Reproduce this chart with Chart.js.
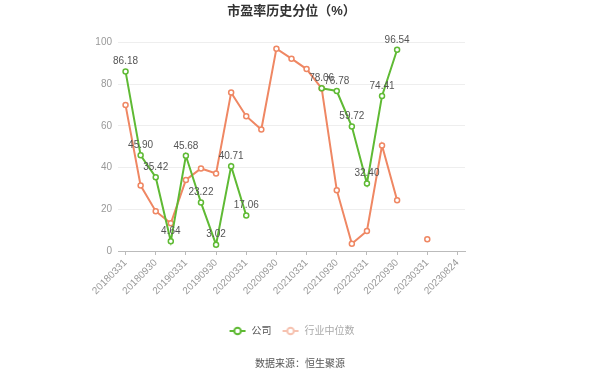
<!DOCTYPE html>
<html><head><meta charset="utf-8">
<script src="https://cdn.jsdelivr.net/npm/chart.js@4/dist/chart.umd.min.js"></script>
<style>html,body{margin:0;padding:0;background:#fff}#wrap{width:600px;height:379px;position:relative}</style>
</head><body><div id="wrap"><canvas id="c"></canvas></div>
<script>
const categories = ['20180331','20180630','20180930','20181231','20190331','20190630','20190930','20191231','20200331','20200630','20200930','20201231','20210331','20210630','20210930','20211231','20220331','20220630','20220930','20221231','20230331','20230630','20230824'];
const company = [86.18,45.90,35.42,4.64,45.68,23.22,3.02,40.71,17.06,null,null,null,null,78.06,76.78,59.72,32.40,74.41,96.54,null,null,null,null];
const industry = [70.0,31.4,19.1,13.3,34.1,39.6,37.2,76.0,64.7,58.3,97.1,92.3,87.3,78.0,29.2,3.5,9.6,50.6,24.4,null,5.6,null,null];
const yTicks = [0,20,40,60,80,100];
const seriesNames = ['公司','行业中位数'];
const titleText = '市盈率历史分位（%）';
const sourceText = '数据来源：恒生聚源';

const GREEN = '#5fba34';
const ORANGE = '#ef8763';
const FONT = "'Liberation Sans','Noto Sans CJK SC',sans-serif";

function marker(color){
  const c = document.createElement('canvas');
  c.width = 18; c.height = 10;
  const g = c.getContext('2d');
  g.strokeStyle = color; g.lineWidth = 2;
  g.beginPath(); g.moveTo(1,5); g.lineTo(17,5); g.stroke();
  g.beginPath(); g.arc(9,5,3.3,0,Math.PI*2); g.fillStyle='#fff'; g.fill(); g.stroke();
  return c;
}

const valueLabels = {
  id: 'valueLabels',
  afterDatasetsDraw(chart){
    const meta = chart.getDatasetMeta(0);
    const ctx = chart.ctx;
    ctx.save();
    ctx.font = '10px ' + FONT;
    ctx.fillStyle = '#555';
    ctx.textAlign = 'center';
    ctx.textBaseline = 'bottom';
    meta.data.forEach((pt, i) => {
      const v = company[i];
      if (v == null) return;
      ctx.fillText(v.toFixed(2), pt.x, pt.y - 5);
    });
    ctx.restore();
  }
};

new Chart(document.getElementById('c'), {
  type: 'line',
  data: {
    labels: categories,
    datasets: [
      { label: seriesNames[0], data: company, borderColor: GREEN, backgroundColor: '#fff',
        borderWidth: 2, pointRadius: 2.5, pointBorderWidth: 1.5, pointBackgroundColor: '#fff',
        pointBorderColor: GREEN, spanGaps: false, tension: 0 },
      { label: seriesNames[1], data: industry, borderColor: ORANGE, backgroundColor: '#fff',
        borderWidth: 2, pointRadius: 2.5, pointBorderWidth: 1.5, pointBackgroundColor: '#fff',
        pointBorderColor: ORANGE, spanGaps: false, tension: 0 }
    ]
  },
  options: {
    responsive: true,
    maintainAspectRatio: false,
    animation: false,
    layout: { padding: 0 },
    plugins: {
      title: { display: true, fullSize: false, text: titleText, color: '#333',
        font: { size: 13, weight: 'bold', family: FONT }, padding: { top: 4, bottom: 23 } },
      subtitle: { display: true, text: sourceText, position: 'bottom', color: '#555',
        font: { size: 10, family: FONT }, padding: { top: 12, bottom: 9 } },
      legend: { position: 'bottom', fullSize: false,
        labels: { usePointStyle: true, pointStyleWidth: 18, padding: 10,
          font: { size: 10, family: FONT }, color: '#555',
          generateLabels: (chart) => [
            { text: seriesNames[0], pointStyle: marker(GREEN), fontColor: '#555', datasetIndex: 0, lineWidth: 0, strokeStyle: 'transparent', fillStyle: 'transparent' },
            { text: seriesNames[1], pointStyle: marker('#f6c2b0'), fontColor: '#aaa', datasetIndex: 1, lineWidth: 0, strokeStyle: 'transparent', fillStyle: 'transparent' }
          ] } },
      tooltip: { enabled: false }
    },
    scales: {
      x: {
        offset: true,
        grid: { drawOnChartArea: false, drawTicks: true, tickLength: 4,
          tickColor: (ctx) => (ctx.index % 2 === 0 ? '#bbb' : 'rgba(0,0,0,0)') },
        border: { display: true, color: '#bbb' },
        ticks: { autoSkip: false, minRotation: 45, maxRotation: 45, color: '#999', padding: 2,
          font: { size: 10, family: FONT },
          callback: (v, i) => (i % 2 === 0 ? categories[i] : '') },
        afterFit: (s) => { s.height = 65; }
      },
      y: {
        min: 0, max: 100,
        grid: { color: '#eeeeee', drawTicks: false },
        border: { display: false },
        ticks: { stepSize: 20, color: '#999', padding: 6, font: { size: 10, family: FONT },
          callback: (v) => (yTicks.includes(v) ? v : '') },
        afterFit: (s) => { s.width = 118; }
      },
      yRight: {
        position: 'right', min: 0, max: 100,
        grid: { drawOnChartArea: false, drawTicks: false },
        border: { display: false },
        ticks: { display: false },
        afterFit: (s) => { s.width = 135; }
      }
    }
  },
  plugins: [valueLabels]
});
</script></body></html>
